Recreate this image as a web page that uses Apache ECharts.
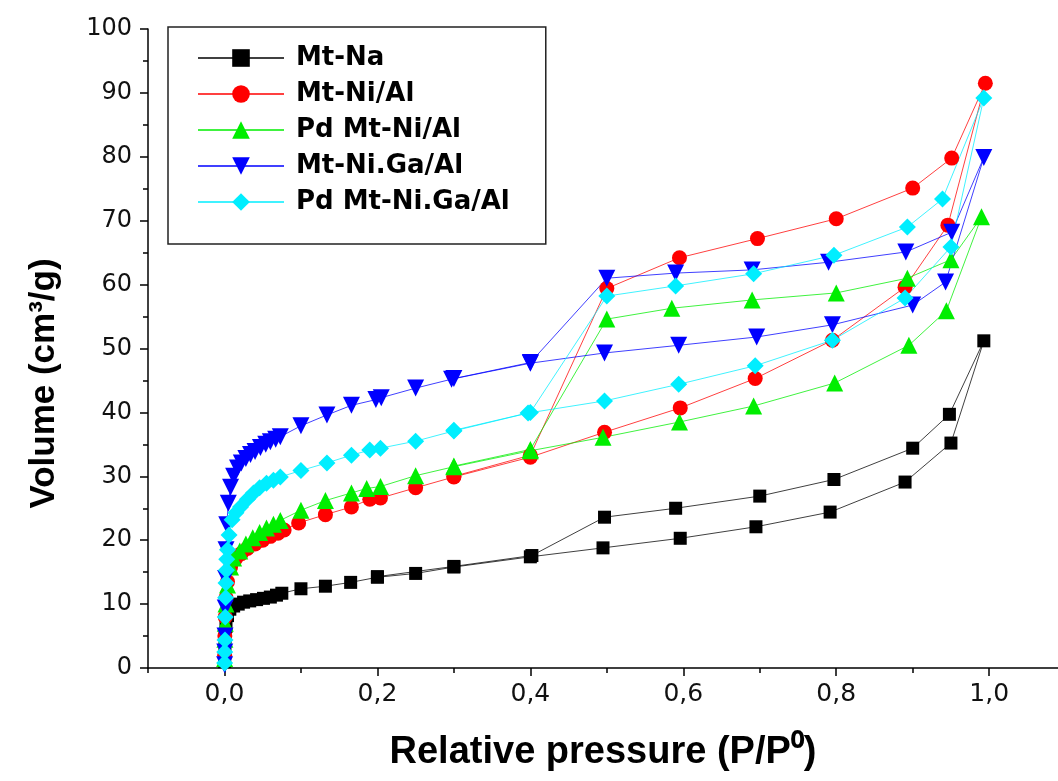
<!DOCTYPE html>
<html>
<head>
<meta charset="utf-8">
<script src="https://cdn.jsdelivr.net/npm/echarts@6/dist/echarts.min.js"></script>
<style>
html,body{margin:0;padding:0;background:#fff;overflow:hidden;}
#chart{width:1058px;height:781px;}
</style>
</head>
<body>
<div id="chart"></div>
<script>
// ---- data (x = relative pressure, y = volume cm3/g) ----
const seriesNames = ['Mt-Na', 'Mt-Ni/Al', 'Pd Mt-Ni/Al', 'Mt-Ni.Ga/Al', 'Pd Mt-Ni.Ga/Al'];

const mtNa = [
  [0.0003,1.0],[0.0006,3.0],[0.001,5.0],[0.002,6.5],[0.004,8.2],[0.007,9.2],[0.012,9.7],[0.018,10.0],
  [0.025,10.3],[0.033,10.5],[0.042,10.7],[0.051,10.9],[0.06,11.1],[0.068,11.4],[0.075,11.7],
  [0.1,12.4],[0.132,12.8],[0.165,13.4],[0.2,14.2],[0.25,14.8],[0.3,15.8],[0.4,17.4],[0.495,18.8],
  [0.596,20.3],[0.695,22.1],[0.792,24.4],[0.89,29.1],[0.95,35.2],[0.993,51.2],
  [0.948,39.7],[0.9,34.4],[0.797,29.5],[0.7,26.9],[0.59,25.0],[0.497,23.6],[0.402,17.6],[0.3,15.9],[0.2,14.3]
];
const mtNiAl = [
  [0.0002,2.0],[0.0005,5.0],[0.001,8.0],[0.002,11.0],[0.004,13.5],[0.008,15.8],[0.015,17.2],[0.022,17.9],
  [0.03,18.7],[0.04,19.4],[0.05,20.0],[0.06,20.6],[0.07,21.1],[0.078,21.6],[0.097,22.7],[0.132,24.0],
  [0.166,25.2],[0.19,26.4],[0.204,26.6],[0.25,28.2],[0.3,29.9],[0.4,33.0],[0.497,36.9],[0.596,40.7],
  [0.694,45.3],[0.795,51.3],[0.89,59.6],[0.946,69.3],[0.995,91.5],
  [0.951,79.8],[0.9,75.1],[0.8,70.3],[0.697,67.2],[0.595,64.2],[0.5,59.4],[0.4,33.3],[0.3,30.0]
];
const pdMtNiAl = [
  [0.0002,1.5],[0.0005,4.5],[0.001,7.0],[0.002,10.0],[0.004,13.0],[0.008,15.8],[0.012,17.2],[0.02,18.3],
  [0.028,19.4],[0.037,20.4],[0.046,21.2],[0.055,21.9],[0.064,22.5],[0.073,23.1],[0.1,24.7],[0.132,26.2],
  [0.166,27.4],[0.186,28.1],[0.204,28.4],[0.25,30.1],[0.3,31.5],[0.4,34.0],[0.495,36.1],[0.595,38.5],
  [0.692,41.0],[0.798,44.6],[0.895,50.5],[0.944,55.9],[0.99,70.6],
  [0.95,63.9],[0.893,61.0],[0.8,58.7],[0.69,57.6],[0.585,56.3],[0.5,54.6],[0.4,34.2],[0.3,31.6]
];
const mtNiGaAl = [
  [0.0002,0.5],[0.0004,2.5],[0.0007,5.0],[0.001,9.4],[0.0015,14.0],[0.002,18.5],[0.003,22.4],[0.005,25.8],
  [0.008,28.3],[0.012,30.0],[0.017,31.3],[0.022,32.1],[0.028,32.8],[0.034,33.4],[0.04,33.9],[0.047,34.5],
  [0.054,35.0],[0.06,35.4],[0.067,35.8],[0.073,36.2],[0.1,37.9],[0.134,39.6],[0.166,41.1],[0.198,42.0],
  [0.205,42.3],[0.25,43.8],[0.297,45.2],[0.4,47.7],[0.497,49.3],[0.594,50.5],[0.696,51.8],[0.795,53.7],
  [0.9,56.8],[0.943,60.4],[0.993,79.9],
  [0.951,68.2],[0.891,65.1],[0.79,63.5],[0.69,62.3],[0.59,61.8],[0.5,61.0],[0.4,47.8],[0.3,45.3]
];
const pdMtNiGaAl = [
  [0.0002,0.8],[0.0004,2.5],[0.0007,4.4],[0.001,8.0],[0.0015,11.0],[0.002,13.3],[0.0025,15.3],[0.003,17.0],
  [0.004,18.5],[0.006,20.8],[0.01,23.2],[0.015,24.3],[0.021,25.2],[0.03,26.4],[0.038,27.4],[0.046,28.2],
  [0.055,28.9],[0.064,29.4],[0.073,29.9],[0.1,30.9],[0.134,32.1],[0.166,33.3],[0.19,34.1],[0.204,34.4],
  [0.25,35.5],[0.3,37.1],[0.397,39.9],[0.497,41.8],[0.594,44.4],[0.694,47.3],[0.795,51.3],[0.89,57.9],
  [0.95,65.9],[0.993,89.2],
  [0.939,73.4],[0.893,69.0],[0.797,64.6],[0.692,61.7],[0.59,59.8],[0.5,58.2],[0.4,40.0],[0.3,37.2]
];

const xTickLabels = [0, 0.2, 0.4, 0.6, 0.8, 1.0];
const xMinorTicks = [-0.1, 0.1, 0.3, 0.5, 0.7, 0.9];

// ---- styles ----
const colors = ['#000000', '#ff0000', '#00ee00', '#0000ff', '#00eeff'];
const symbols = ['rect', 'circle', 'triangle', 'triangle', 'diamond'];
const symbolSizes = [13, 15, 17, 17, 17];
const symbolRotates = [0, 0, 0, 180, 0];
const datasets = [mtNa, mtNiAl, pdMtNiAl, mtNiGaAl, pdMtNiGaAl];

const chart = echarts.init(document.getElementById('chart'), null, {renderer: 'canvas'});

const series = seriesNames.map((name, i) => ({
  name: name,
  type: 'line',
  xAxisIndex: 0,
  yAxisIndex: 0,
  data: datasets[i],
  symbol: symbols[i],
  symbolSize: symbolSizes[i],
  symbolRotate: symbolRotates[i],
  showAllSymbol: true,
  itemStyle: {color: colors[i]},
  lineStyle: {color: colors[i], width: 1, opacity: 0.75},
  emphasis: {disabled: true}
}));

const option = {
  animation: false,
  backgroundColor: '#ffffff',
  grid: {left: 148, right: 0, top: 29, bottom: 113, containLabel: false},
  legend: {
    orient: 'vertical',
    left: 168,
    top: 27,
    data: seriesNames,
    itemWidth: 86,
    itemHeight: 22,
    itemGap: 10,
    padding: [18, 36, 29, 29],
    borderColor: '#222',
    borderWidth: 1.5,
    backgroundColor: '#ffffff',
    textStyle: {fontFamily: 'DejaVu Sans', fontWeight: 'bold', fontSize: 26, color: '#000', padding: [0, 0, 0, 7]}
  },
  xAxis: [{
    type: 'value',
    min: -0.1,
    max: 1.09,
    position: 'bottom',
    name: 'Relative pressure (P/P\u2070)',
    nameLocation: 'middle',
    nameGap: 66,
    nameTextStyle: {fontFamily: 'Liberation Sans', fontWeight: 'bold', fontSize: 38, color: '#000'},
    axisLine: {show: true, onZero: false, lineStyle: {color: '#000', width: 1.5}},
    axisTick: {show: true, inside: false, length: 8, customValues: xTickLabels, lineStyle: {color: '#000', width: 1.5}},
    axisLabel: {show: true, customValues: xTickLabels, margin: 14, fontFamily: 'DejaVu Sans', fontSize: 25, color: '#111',
      formatter: v => v.toFixed(1).replace('.', ',')},
    splitLine: {show: false}
  }, {
    type: 'value',
    min: -0.1,
    max: 1.09,
    position: 'bottom',
    axisLine: {show: false},
    axisTick: {show: true, inside: false, length: 5, customValues: xMinorTicks, lineStyle: {color: '#000', width: 1.5}},
    axisLabel: {show: false},
    splitLine: {show: false}
  }],
  yAxis: {
    type: 'value',
    min: 0,
    max: 100,
    interval: 10,
    name: 'Volume (cm\u00B3/g)',
    nameLocation: 'middle',
    nameGap: 86,
    nameTextStyle: {fontFamily: 'Liberation Sans', fontWeight: 'bold', fontSize: 35, color: '#000', padding: [0, 70, 0, 0]},
    axisLine: {show: true, onZero: false, lineStyle: {color: '#000', width: 1.5}},
    axisTick: {show: true, inside: false, length: 8, lineStyle: {color: '#000', width: 1.5}},
    minorTick: {show: true, splitNumber: 2, length: 5, lineStyle: {color: '#000', width: 1.5}},
    axisLabel: {margin: 16, fontFamily: 'DejaVu Sans', fontSize: 24, color: '#111'},
    splitLine: {show: false},
    minorSplitLine: {show: false}
  },
  series: series
};

chart.setOption(option);
</script>
</body>
</html>
